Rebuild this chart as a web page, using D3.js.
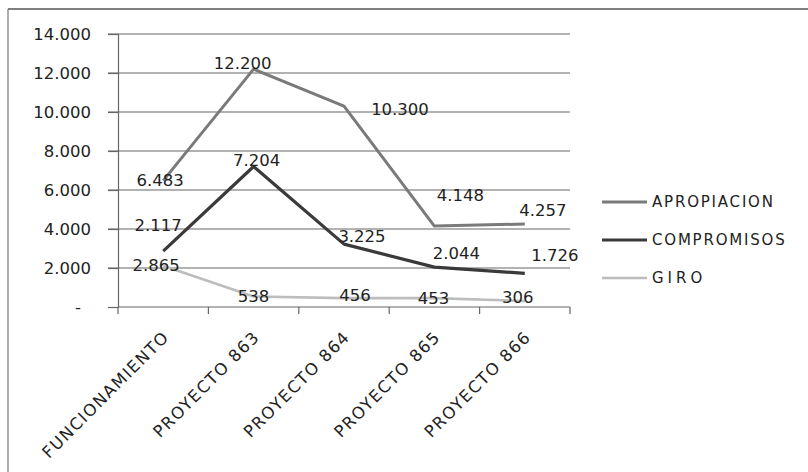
<!DOCTYPE html>
<html>
<head>
<meta charset="utf-8">
<script src="https://cdn.jsdelivr.net/npm/d3@7/dist/d3.min.js"></script>
<style>
  body { margin: 0; background: #fff; }
  text { font-family: "DejaVu Sans", Verdana, sans-serif; fill: #222; }
</style>
</head>
<body>
<svg id="chart" width="808" height="472"></svg>
<script>
// data
const categories = ['FUNCIONAMIENTO', 'PROYECTO 863', 'PROYECTO 864', 'PROYECTO 865', 'PROYECTO 866'];
const apropiacion = [6483, 12200, 10300, 4148, 4257];
const compromisos = [2865, 7204, 3225, 2044, 1726];
const giro = [2117, 538, 456, 453, 306];
const yTicks = [0, 2000, 4000, 6000, 8000, 10000, 12000, 14000];
const seriesNames = ['APROPIACION', 'COMPROMISOS', 'GIRO'];

// label nudges (px) relative to each point, like the reference
const labelOffsets = [
  [[-3, 0], [-11, -6], [56, 3], [26, -31], [18, -13]],
  [[-7, 14], [3, -6], [18, -8], [22, -14], [30, -18]],
  [[-5, -40], [0, 0], [11, -3], [-1, 0], [-7, -4]]
];

const colors = ['#7a7a7a', '#3a3a3a', '#bdbdbd'];
const widths = [3, 3.2, 2.6];

const svg = d3.select('#chart');
const margin = { left: 118, right: 570, top: 34, bottom: 307 };

const x = d3.scaleBand().domain(categories).range([margin.left, margin.right]);
const y = d3.scaleLinear().domain([0, 14000]).range([margin.bottom, margin.top]);
const fmt = v => v === 0 ? '-' : d3.format(',')(v).replace(/,/g, '.');

// outer frame (top and left edges visible in the scan)
svg.append('line').attr('x1', 8).attr('x2', 808).attr('y1', 9).attr('y2', 9)
  .attr('stroke', '#555').attr('stroke-width', 1.5);
svg.append('line').attr('x1', 8).attr('x2', 8).attr('y1', 9).attr('y2', 472)
  .attr('stroke', '#777').attr('stroke-width', 1.2);

// gridlines
svg.append('g').selectAll('line')
  .data(yTicks.filter(d => d > 0))
  .join('line')
  .attr('x1', 108).attr('x2', margin.right)
  .attr('y1', d => y(d)).attr('y2', d => y(d))
  .attr('stroke', '#666').attr('stroke-width', 1.2);

// y axis
const yAxis = svg.append('g')
  .attr('transform', `translate(${margin.left},0)`)
  .call(d3.axisLeft(y).tickValues(yTicks).tickFormat(fmt).tickSize(10).tickPadding(17));
yAxis.select('.domain').attr('stroke', '#666').attr('stroke-width', 1.2);
yAxis.selectAll('.tick line').attr('stroke', '#666').attr('stroke-width', 1.2);
yAxis.selectAll('text').style('font-size', '16.5px').attr('fill', '#222')
  .attr('dx', d => d === 0 ? -10 : 0);

// x axis with ticks between categories
const xAxis = svg.append('g').attr('transform', `translate(0,${margin.bottom})`);
xAxis.append('line').attr('x1', margin.left).attr('x2', margin.right)
  .attr('stroke', '#666').attr('stroke-width', 1.2);
xAxis.selectAll('.tk')
  .data(categories.concat(['end']))
  .join('line')
  .attr('class', 'tk')
  .attr('x1', (d, i) => i < categories.length ? x(d) : margin.right)
  .attr('x2', (d, i) => i < categories.length ? x(d) : margin.right)
  .attr('y1', 0).attr('y2', 7)
  .attr('stroke', '#666').attr('stroke-width', 1.2);
xAxis.selectAll('.lbl')
  .data(categories)
  .join('text')
  .attr('class', 'lbl')
  .attr('text-anchor', 'end')
  .attr('transform', d => `translate(${x(d) + x.bandwidth() / 2 + 7},${31}) rotate(-45)`)
  .style('font-size', '16.5px')
  .style('letter-spacing', '1.4px')
  .text(d => d);

// lines
const allSeries = [apropiacion, compromisos, giro];
const line = d3.line()
  .x((d, i) => x(categories[i]) + x.bandwidth() / 2)
  .y(d => y(d));

svg.append('g').selectAll('path')
  .data(allSeries)
  .join('path')
  .attr('fill', 'none')
  .attr('stroke', (d, i) => colors[i])
  .attr('stroke-width', (d, i) => widths[i])
  .attr('stroke-linejoin', 'round')
  .attr('d', line);

// data labels
allSeries.forEach((s, si) => {
  svg.append('g').selectAll('text')
    .data(s)
    .join('text')
    .attr('x', (d, i) => x(categories[i]) + x.bandwidth() / 2 + labelOffsets[si][i][0])
    .attr('y', (d, i) => y(d) + labelOffsets[si][i][1])
    .attr('text-anchor', 'middle')
    .attr('dominant-baseline', 'central')
    .style('font-size', '16.5px')
    .text(d => fmt(d));
});

// legend
const legend = svg.append('g').attr('transform', 'translate(602,202)');
seriesNames.forEach((name, i) => {
  const g = legend.append('g').attr('transform', `translate(0,${i * 38})`);
  g.append('line').attr('x1', 0).attr('x2', 45)
    .attr('stroke', colors[i]).attr('stroke-width', widths[i]);
  g.append('text').attr('x', 50).attr('y', 0)
    .attr('dominant-baseline', 'central')
    .style('font-size', '15px')
    .style('letter-spacing', i === 2 ? '4px' : '1.8px')
    .text(name);
});
</script>
</body>
</html>
